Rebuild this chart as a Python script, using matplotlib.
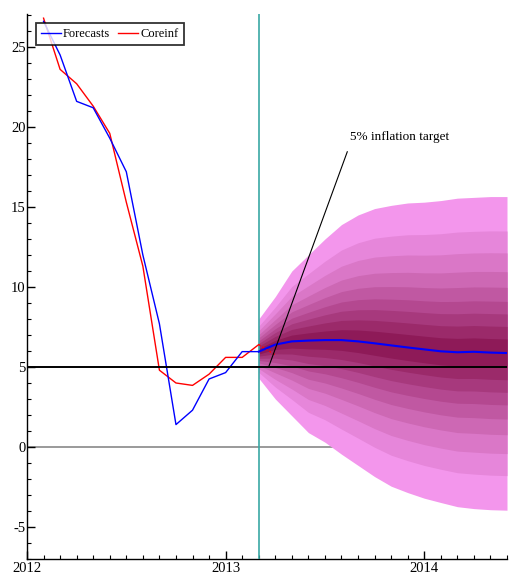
import numpy as np
import matplotlib
matplotlib.use("Agg")
import matplotlib.pyplot as plt
from matplotlib.ticker import MultipleLocator, FixedLocator
from matplotlib.colors import to_hex

plt.rcParams['font.family'] = ['Liberation Serif', 'DejaVu Serif']
plt.rcParams['axes.unicode_minus'] = False

# ---- data (months since Jan 2012) ----
hist_months = list(range(1, 16))
coreinf = [26.8, 23.6, 22.7, 21.3, 19.6, 15.3, 11.3, 4.8, 4.0, 3.85, 4.55, 5.6, 5.6, 6.4, 5.75]
forecast_hist = [26.6, 24.5, 21.6, 21.2, 19.3, 17.2, 12.0, 7.7, 1.4, 2.3, 4.25, 4.65, 5.96, 5.96]

fan_months = list(range(14, 30))
fan_center = [5.96, 6.4, 6.6, 6.65, 6.68, 6.68, 6.6, 6.48, 6.35, 6.22, 6.1, 5.98, 5.92, 5.95, 5.9, 5.87]
fan_upper = [8.0, 9.4, 11.0, 12.0, 13.0, 13.9, 14.5, 14.9, 15.1, 15.25, 15.3, 15.4, 15.55, 15.6, 15.65, 15.65]
fan_lower = [4.3, 3.0, 1.95, 0.9, 0.3, -0.45, -1.15, -1.85, -2.45, -2.85, -3.2, -3.47, -3.73, -3.85, -3.92, -3.95]

target = 5.0
shock_month = 14
target_label = "5% inflation target"
year_ticks = [2012, 2013, 2014]

# ---- helpers ----
def to_year(m):
    return 2012 + np.asarray(m, dtype=float) / 12.0

fig = plt.figure(figsize=(5.1, 5.79), dpi=100)
ax = fig.add_axes([27/510, 20/579, 480/510, 545/579])

# fan chart bands (outer -> inner)
band_frac = [1.0, 0.78, 0.64, 0.52, 0.42, 0.33, 0.25, 0.17, 0.09]
c_out = np.array([243, 150, 236]) / 255
c_in = np.array([142, 26, 88]) / 255
fx = to_year(fan_months)
fc = np.array(fan_center)
fu = np.array(fan_upper)
fl = np.array(fan_lower)
n = len(band_frac)
for i, fr in enumerate(band_frac):
    t = i / (n - 1)
    col = c_out * (1 - t) + c_in * t
    ax.fill_between(fx, fc - fr * (fc - fl), fc + fr * (fu - fc),
                    color=to_hex(col), lw=0, zorder=2)

# reference lines
ax.axhline(0, color='#9a9a9a', lw=1.4, zorder=1)
ax.axvline(to_year(shock_month), color='#3aa8a4', lw=1.2, zorder=3)
ax.axhline(target, xmin=0, xmax=1, color='black', lw=1.4, zorder=5)

# series
hx = to_year(hist_months)
ax.plot(hx[:14], coreinf[:14], color='red', lw=1.0, zorder=4, label='Coreinf')
ax.plot(hx[13:15], coreinf[13:15], color='red', lw=1.0, ls=(0, (1.5, 1.5)), zorder=4)
ax.plot(hx[:14], forecast_hist, color='blue', lw=1.0, zorder=4, label='Forecasts')
ax.plot(fx, fan_center, color='blue', lw=1.5, zorder=4)

# annotation
ax.plot(to_year([14.6, 19.35]), [target, 18.45], color='black', lw=0.8, zorder=6)
ax.text(to_year(19.5), 19.4, target_label, fontsize=9.5, ha='left', va='center')

# axes styling
ax.set_xlim(2012.0, to_year(29))
ax.set_ylim(-7.0, 27.06)
for s in ['top', 'right']:
    ax.spines[s].set_visible(False)
ax.spines['left'].set_linewidth(1.0)
ax.spines['bottom'].set_linewidth(1.0)
ax.xaxis.set_major_locator(FixedLocator(year_ticks))
ax.xaxis.set_minor_locator(FixedLocator(to_year(range(0, 30))))
ax.set_xticklabels([str(y) for y in year_ticks])
ax.yaxis.set_major_locator(MultipleLocator(5))
ax.yaxis.set_minor_locator(MultipleLocator(1))
ax.tick_params(axis='both', which='major', direction='in', length=6, width=1.0,
               labelsize=10.5, pad=2)
ax.tick_params(axis='both', which='minor', direction='in', length=3, width=0.8)
ax.tick_params(axis='y', which='major', pad=1)

h, l = ax.get_legend_handles_labels()
order = [l.index('Forecasts'), l.index('Coreinf')]
leg = ax.legend([h[i] for i in order], [l[i] for i in order], ncol=2,
                loc='upper left', bbox_to_anchor=(0.018, 0.983), fontsize=9,
                frameon=True, fancybox=False, handlelength=1.6, handletextpad=0.2,
                columnspacing=0.6, borderpad=0.4, borderaxespad=0)
leg.get_frame().set_edgecolor('black')
leg.get_frame().set_linewidth(1.3)

fig.savefig('out.png', dpi=100)
